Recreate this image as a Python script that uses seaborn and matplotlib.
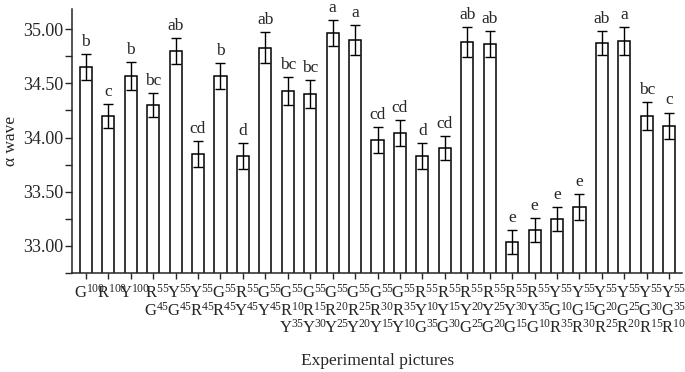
import pandas as pd
import seaborn as sns
import matplotlib.pyplot as plt
import matplotlib.transforms as mtransforms
from matplotlib.ticker import MultipleLocator, FormatStrFormatter

# picture composition, one list per label line (colour + percentage)
line1 = ["G100", "R100", "Y100", "R55", "Y55", "Y55", "G55", "R55", "G55",
         "G55", "G55", "G55", "G55", "G55", "G55",
         "R55", "R55", "R55", "R55", "R55", "R55",
         "Y55", "Y55", "Y55", "Y55", "Y55", "Y55"]
line2 = ["", "", "", "G45", "G45", "R45", "R45", "Y45", "Y45",
         "R10", "R15", "R20", "R25", "R30", "R35",
         "Y10", "Y15", "Y20", "Y25", "Y30", "Y35",
         "G10", "G15", "G20", "G25", "G30", "G35"]
line3 = ["", "", "", "", "", "", "", "", "",
         "Y35", "Y30", "Y25", "Y20", "Y15", "Y10",
         "G35", "G30", "G25", "G20", "G15", "G10",
         "R35", "R30", "R25", "R20", "R15", "R10"]

alpha_wave = [34.65, 34.20, 34.57, 34.30, 34.80, 33.85, 34.57, 33.83, 34.83,
              34.43, 34.40, 34.96, 34.90, 33.98, 34.04,
              33.83, 33.90, 34.88, 34.86, 33.04, 33.15,
              33.25, 33.36, 34.87, 34.89, 34.20, 34.11]
std_err = [0.12, 0.11, 0.13, 0.11, 0.12, 0.12, 0.12, 0.12, 0.14,
           0.13, 0.13, 0.12, 0.14, 0.12, 0.12,
           0.12, 0.11, 0.14, 0.12, 0.11, 0.11,
           0.11, 0.12, 0.11, 0.13, 0.13, 0.12]
letters = ["b", "c", "b", "bc", "ab", "cd", "b", "d", "ab",
           "bc", "bc", "a", "a", "cd", "cd",
           "d", "cd", "ab", "ab", "e", "e",
           "e", "e", "ab", "a", "bc", "c"]


def fmt(code):
    if not code:
        return ""
    return r"$\mathrm{%s}^{%s}$" % (code[0], code[1:])


tick_labels = ["\n".join(fmt(c) for c in (a, b, c3) if c)
               for a, b, c3 in zip(line1, line2, line3)]

df = pd.DataFrame({"pic": [f"P{i}" for i in range(len(alpha_wave))],
                   "value": alpha_wave, "err": std_err})

sns.set_style("ticks")
plt.rcParams["font.family"] = ["Liberation Serif", "DejaVu Serif"]
plt.rcParams["mathtext.fontset"] = "custom"
plt.rcParams["mathtext.rm"] = "Liberation Serif"
plt.rcParams["mathtext.it"] = "Liberation Serif:italic"

fig = plt.figure(figsize=(6.85, 3.72), dpi=100)
ax = fig.add_axes([0.105, 0.266, 0.891, 0.711])

sns.barplot(data=df, x="pic", y="value", color="white", edgecolor="black",
            linewidth=1.1, width=0.54, ax=ax)
ax.errorbar(range(len(df)), df["value"], yerr=df["err"], fmt="none",
            ecolor="black", elinewidth=1.0, capsize=3.5, capthick=1.0)

for i, (m, e, lt) in enumerate(zip(alpha_wave, std_err, letters)):
    ax.annotate(lt, (i, m + e), xytext=(0, 3), textcoords="offset points",
                ha="center", va="bottom", fontsize=12.5)

ax.set_ylim(32.75, 35.19)
ax.set_xlim(-0.62, len(df) - 1 + 0.58)
ax.yaxis.set_major_locator(MultipleLocator(0.5))
ax.yaxis.set_minor_locator(MultipleLocator(0.25))
ax.yaxis.set_major_formatter(FormatStrFormatter("%.2f"))
ax.tick_params(axis="y", which="major", length=5, width=1, labelsize=13, pad=1)
ax.tick_params(axis="y", which="minor", length=5, width=1)
ax.tick_params(axis="x", length=4, width=1, labelsize=12, pad=4)

ax.set_xticks(range(len(df)))
ax.set_xticklabels(tick_labels, linespacing=0.95)
shift = mtransforms.ScaledTranslation(4 / 100, 0, fig.dpi_scale_trans)
for lab in ax.get_xticklabels():
    lab.set_transform(lab.get_transform() + shift)

for s in ["left", "bottom"]:
    ax.spines[s].set_linewidth(1.1)
sns.despine(ax=ax)

ax.set_xlabel("Experimental pictures", fontsize=12.5, labelpad=12)
ax.set_ylabel("α wave", fontsize=12.5, labelpad=3)

fig.savefig("out.png", dpi=100)
